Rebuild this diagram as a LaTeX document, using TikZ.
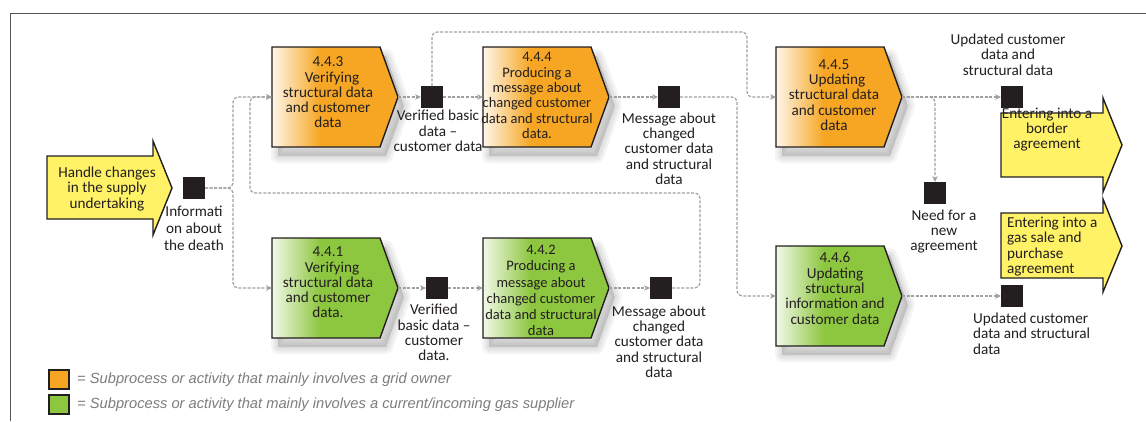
\documentclass[tikz,border=0pt]{standalone}
\usepackage{fontspec}
\setmainfont{Carlito}
\newfontfamily\legendfont{Liberation Sans}
\usetikzlibrary{arrows.meta}
\definecolor{orangeC}{RGB}{246,166,35}
\definecolor{greenC}{RGB}{141,198,63}
\definecolor{yellowC}{RGB}{255,242,102}
\definecolor{edgeC}{RGB}{35,31,32}
\definecolor{flowC}{RGB}{160,160,160}
\definecolor{legendC}{RGB}{125,125,125}
\definecolor{frameC}{RGB}{85,85,85}
\pgfdeclarehorizontalshading{orangeshade}{100bp}{color(0bp)=(orangeC!10!white); color(25bp)=(orangeC!10!white); color(44bp)=(orangeC); color(100bp)=(orangeC)}
\pgfdeclarehorizontalshading{greenshade}{100bp}{color(0bp)=(greenC!12!white); color(25bp)=(greenC!12!white); color(44bp)=(greenC); color(100bp)=(greenC)}
\newcommand{\procshape}[4]{%
  \begin{scope}[shift={(#2,#3)}]
    \foreach \w in {14,9,5,0.1}{
      \path[fill=black!55, draw=black!55, line width=\w, opacity=0.075, line join=round]
        (6,9) -- (114,9) -- (132,59) -- (114,109) -- (6,109) -- cycle;}
    \path[shading=#4, draw=edgeC, line width=1.4]
      (0,0) -- (108,0) -- (126,50) -- (108,100) -- (0,100) -- cycle;
    \coordinate (#1-in) at (0,50);
    \coordinate (#1-out) at (126,50);
  \end{scope}}
\tikzset{
  flow/.style={draw=flowC, line width=1.2, dash pattern=on 3pt off 1.6pt, rounded corners=5pt,
    -{Stealth[length=6pt,width=5.5pt,fill=flowC]}},
  datasq/.style={fill=edgeC, minimum size=22pt, inner sep=0pt, outer sep=0pt},
  txt/.style={align=center, font=\fontsize{15.2}{15.3}\selectfont, inner sep=0pt, text=edgeC},
  txtn/.style={txt, font=\fontsize{14.5}{15.3}\selectfont},
  yshape/.style={fill=yellowC, draw=edgeC, line width=1.4, line join=miter},
  legsq/.style={draw=edgeC, line width=1.2, minimum width=20pt, minimum height=19pt, inner sep=0pt},
  legtxt/.style={font=\legendfont\itshape\fontsize{14.7}{15}\selectfont, text=legendC, inner sep=0pt, anchor=west}
}
\begin{document}
\begin{tikzpicture}[x=1pt,y=-1pt]
\useasboundingbox (0,0) rectangle (1146,421);
\fill[white] (0,0) rectangle (1146,421);
% frame
\draw[frameC, line width=1] (10,421) -- (10,13.5) -- (1146,13.5);

% yellow arrows
\path[yshape] (47,156) -- (153,156) -- (153,141) -- (172,188) -- (153,235) -- (153,219) -- (47,219) -- cycle;
\path[yshape] (1001,113) -- (1103,113) -- (1103,98) -- (1122,145) -- (1103,192) -- (1103,177) -- (1001,177) -- cycle;
\path[yshape] (1001,213) -- (1103,213) -- (1103,199) -- (1122,246) -- (1103,292) -- (1103,278) -- (1001,278) -- cycle;
\node[txt] (handle) at (107,189) {Handle changes\\in the supply\\undertaking};
\node[txt] (border) at (1047,129.5) {Entering into a\\border\\agreement};
\node[txt, align=left, anchor=west] (gas) at (1007,246.5) {Entering into a\\gas sale and\\purchase\\agreement};

% process shapes
\procshape{p443}{272}{47}{orangeshade}
\procshape{p444}{483}{47}{orangeshade}
\procshape{p445}{776}{47}{orangeshade}
\procshape{p441}{272}{238}{greenshade}
\procshape{p442}{483}{238}{greenshade}
\procshape{p446}{776}{246}{greenshade}

\node[txt] (t443) at (328,92.5) {4.4.3\\\hspace*{8pt}Verifying\\structural data\\and customer\\data};
\node[txtn] (t444) at (537,95.5) {4.4.4\\Producing a\\message about\\changed customer\\data and structural\\data.};
\node[txt] (t445) at (834,95) {4.4.5\\\hspace*{6pt}Updating\\structural data\\and customer\\data};
\node[txt] (t441) at (328,282.5) {4.4.1\\\hspace*{8pt}Verifying\\structural data\\and customer\\data.};
\node[txtn, font=\fontsize{14.5}{16.2}\selectfont] (t442) at (541,290.5) {4.4.2\\Producing a\\message about\\changed customer\\data and structural\\data};
\node[txt] (t446) at (835,288.5) {4.4.6\\Updating\\structural\\information and\\customer data};

% data objects
\node[datasq] (d0) at (194,188) {};
\node[datasq] (d1) at (432,97) {};
\node[datasq] (d2) at (669,97) {};
\node[datasq] (d3) at (1012,97) {};
\node[datasq] (d4) at (935,193) {};
\node[datasq] (dvb) at (437,288) {};
\node[datasq] (d5) at (661,288) {};
\node[datasq] (d6) at (1012,296) {};

% data labels
\node[txt, font=\fontsize{15.2}{17}\selectfont] (l0) at (194,228) {Informati\\on about\\the death};
\node[txt] (l1) at (438,131) {Verified basic\\data --\\customer data};
\node[txt] (l2) at (669,148.5) {Message about\\changed\\customer data\\and structural\\data};
\node[txt] (l3) at (1008,54.5) {Updated customer\\data and\\structural data};
\node[txt] (l4) at (944,231.5) {Need for a\\new\\agreement};
\node[txt] (lvb) at (434,332.5) {Verified\\basic data --\\customer\\data.};
\node[txt] (l5) at (659,341.5) {Message about\\changed\\customer data\\and structural\\data};
\node[txt, align=left, anchor=west] (l6) at (973,333.5) {Updated customer\\data and structural\\data};

% connectors
\draw[flow] (d0.east) -- (233,188) |- (p443-in);
\draw[flow] (d0.east) -- (233,188) |- (p441-in);
\draw[flow] (d5.east) -- (700,288) |- (250,193) |- (p443-in);
\draw[flow] (p443-out) -- (d1.west);
\draw[flow] (d1.east) -- (p444-in);
\draw[flow] (d1.north) |- (747,32) |- (p445-in);
\draw[flow] (p444-out) -- (d2.west);
\draw[flow] (d2.east) -- (737,97) |- (p446-in);
\draw[flow] (p445-out) -- (d3.west);
\draw[flow] (p445-out) -| (d4.north);
\draw[flow] (p441-out) -- (dvb.west);
\draw[flow] (dvb.east) -- (p442-in);
\draw[flow] (p442-out) -- (d5.west);
\draw[flow] (p446-out) -- (d6.west);

% legend
\node[legsq, fill=orangeC] (lego) at (59,379.5) {};
\node[legsq, fill=greenC] (legg) at (59,404.5) {};
\node[legtxt] (legot) at (77,380) {= Subprocess or activity that mainly involves a grid owner};
\node[legtxt] (leggt) at (77,405) {= Subprocess or activity that mainly involves a current/incoming gas supplier};
\end{tikzpicture}
\end{document}
